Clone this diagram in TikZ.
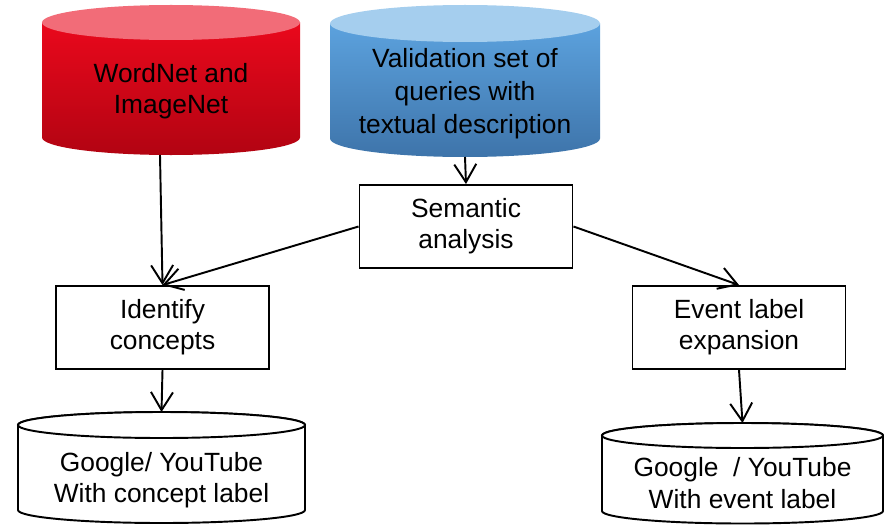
\documentclass[tikz,border=0pt]{standalone}
\usepackage{fontspec}
\setmainfont{Liberation Sans}
\usetikzlibrary{calc}
\usetikzlibrary{arrows.meta}
\definecolor{redface}{RGB}{242,108,120}
\definecolor{redhi}{RGB}{234,8,28}
\definecolor{redlo}{RGB}{178,4,18}
\definecolor{blueface}{RGB}{165,206,238}
\definecolor{bluehi}{RGB}{92,162,222}
\definecolor{bluelo}{RGB}{62,116,170}

\begin{document}
\begin{tikzpicture}[scale = 1.0,
	box/.style = {draw, line width = 1.1pt, minimum width = 4.26cm, minimum height = 1.66cm, align = center, font = \fontsize{15}{17.8}\selectfont},
	txt/.style = {align = center, font = \fontsize{15}{17.8}\selectfont},
	arr/.style = {line width = 1.1pt, -{Straight Barb[length = 3.6mm, width = 4.4mm]}},
	cyl/.style = {line width = 1.1pt, fill = white}]
				\useasboundingbox (0, 0) rectangle (17.68, -10.48);

				\coordinate[](wn) at (3.42, -0.45);
				\coordinate[](vs) at (9.3, -0.47);
				\coordinate[](gc) at (3.23, -8.5);
				\coordinate[](ge) at (14.85, -8.71);

				\shade[top color = redhi, bottom color = redlo] ($(wn)+(-2.58, 0)$)--($(wn)+(-2.58, -2.3)$) arc[start angle = 180, end angle = 360, x radius = 2.58, y radius = 0.35]--($(wn)+(2.58, 0)$)--cycle;
				\fill[redface] (wn) ellipse[x radius = 2.58, y radius = 0.35];

				\shade[top color = bluehi, bottom color = bluelo] ($(vs)+(-2.7, 0)$)--($(vs)+(-2.7, -2.3)$) arc[start angle = 180, end angle = 360, x radius = 2.7, y radius = 0.37]--($(vs)+(2.7, 0)$)--cycle;
				\fill[blueface] (vs) ellipse[x radius = 2.7, y radius = 0.37];

				\draw[cyl] ($(gc)+(-2.87, 0)$)--($(gc)+(-2.87, -1.7)$) arc[start angle = 180, end angle = 360, x radius = 2.87, y radius = 0.26]--($(gc)+(2.87, 0)$) arc[start angle = 0, end angle = 180, x radius = 2.87, y radius = 0.26]--cycle;
				\draw[cyl] (gc) ellipse[x radius = 2.87, y radius = 0.26];

				\draw[cyl] ($(ge)+(-2.81, 0)$)--($(ge)+(-2.81, -1.51)$) arc[start angle = 180, end angle = 360, x radius = 2.81, y radius = 0.25]--($(ge)+(2.81, 0)$) arc[start angle = 0, end angle = 180, x radius = 2.81, y radius = 0.25]--cycle;
				\draw[cyl] (ge) ellipse[x radius = 2.81, y radius = 0.25];

				\node[txt](wntext) at (3.42, -1.82) {WordNet and\\ImageNet};
				\node[txt, font = \fontsize{15}{18.6}\selectfont](vstext) at (9.3, -1.87) {Validation set of\\queries with\\textual description};
				\node[txt](gctext) at (3.23, -9.6) {Google/ YouTube\\With concept label};
				\node[txt](getext) at (14.85, -9.66) {Google~ / YouTube\\With event label};

				\node[box](sem) at (9.32, -4.53) {Semantic\\analysis};
				\node[box](idc) at (3.25, -6.55) {Identify\\concepts};
				\node[box](evl) at (14.78, -6.55) {Event label\\expansion};

				\coordinate[](wnout) at (3.2, -3.1);
				\coordinate[](vsout) at (9.3, -3.14);
				\coordinate[](gcin) at (3.23, -8.24);
				\coordinate[](gein) at (14.85, -8.46);

				\draw[arr] (wnout)--(idc.north);
				\draw[arr] (vsout)--(sem.north);
				\draw[arr] (sem.west)--(idc.north);
				\draw[arr] (sem.east)--(evl.north);
				\draw[arr] (idc.south)--(gcin);
				\draw[arr] (evl.south)--(gein);
			\end{tikzpicture}
\end{document}
